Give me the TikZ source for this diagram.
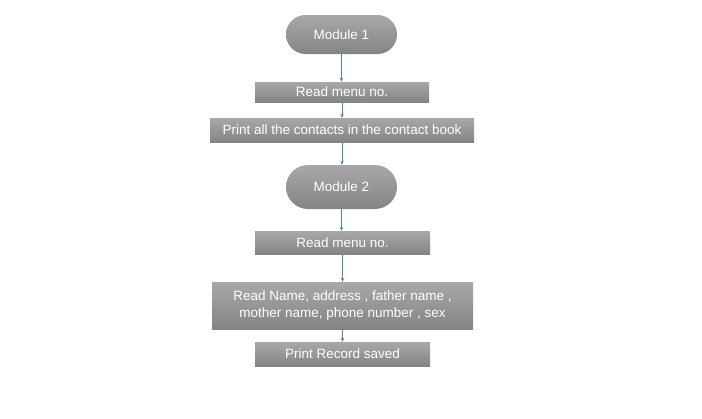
\documentclass[tikz,border=0pt]{standalone}
\usepackage{fontspec}
\setmainfont{Liberation Sans}
\usetikzlibrary{arrows.meta,shapes.misc}
\definecolor{boxtop}{RGB}{168,168,168}
\definecolor{boxbot}{RGB}{132,132,132}
\definecolor{arrowblue}{RGB}{79,129,189}
\begin{document}
\begin{tikzpicture}[x=1pt,y=-1pt,
  base/.style={top color=boxtop,bottom color=boxbot,draw=none,text=white,
    font=\fontsize{13.5}{17}\selectfont,align=center,inner sep=0pt},
  procbox/.style={base,rectangle},
  termbox/.style={base,rounded rectangle},
  flow/.style={draw=arrowblue,line width=0.7pt,-{Stealth[length=4pt,width=3.5pt]}}]
\useasboundingbox (0,0) rectangle (702,418);
\fill[white] (0,0) rectangle (702,418);
\node[termbox,minimum width=111pt,minimum height=39pt] (m1) at (341.5,34.5) {Module 1};
\node[procbox,minimum width=174pt,minimum height=20pt] (r1) at (342,92) {Read menu no.};
\node[procbox,minimum width=264pt,minimum height=24pt] (p1) at (342,130) {Print all the contacts in the contact book};
\node[termbox,minimum width=111pt,minimum height=44pt] (m2) at (341.5,187) {Module 2};
\node[procbox,minimum width=175pt,minimum height=23pt] (r2) at (342.5,242.5) {Read menu no.};
\node[procbox,minimum width=261pt,minimum height=47pt] (rn) at (342.5,305.5) {Read Name, address , father name ,\\ mother name, phone number , sex};
\node[procbox,minimum width=175pt,minimum height=24pt] (pr) at (342.5,354) {Print Record saved};
\draw[flow] (m1.south) -- (m1.south |- r1.north);
\draw[flow] (r1.south) -- (r1.south |- p1.north);
\draw[flow] (p1.south) -- (p1.south |- m2.north);
\draw[flow] (m2.south) -- (m2.south |- r2.north);
\draw[flow] (r2.south) -- (r2.south |- rn.north);
\draw[flow] (rn.south) -- (rn.south |- pr.north);
\end{tikzpicture}
\end{document}
